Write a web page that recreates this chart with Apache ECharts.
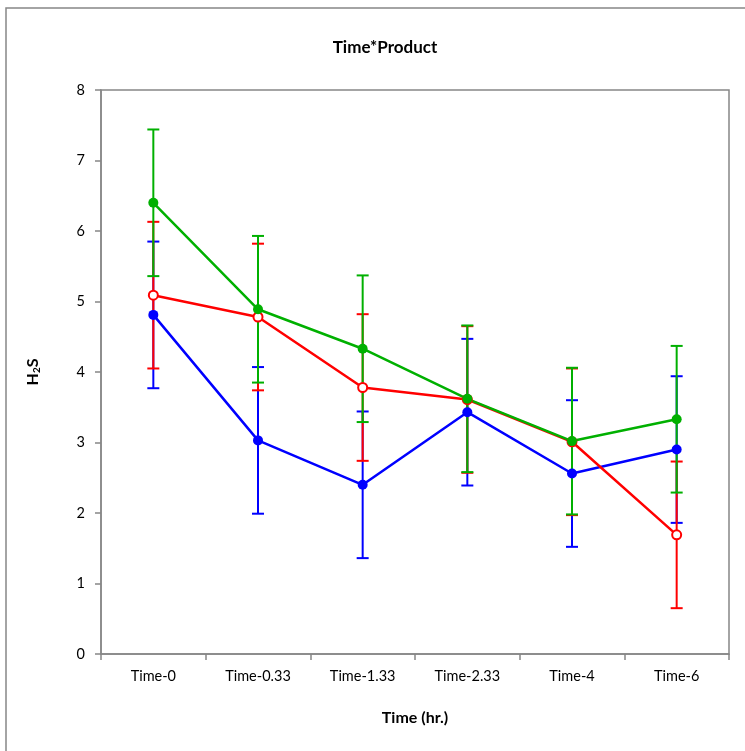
<!DOCTYPE html>
<html>
<head>
<meta charset="utf-8">
<script src="https://cdn.jsdelivr.net/npm/echarts@6/dist/echarts.min.js"></script>
<style>
  html, body { margin: 0; padding: 0; background: #fff; }
  #chart { width: 745px; height: 751px; }
</style>
</head>
<body>
<div id="chart"></div>
<script>
// categories and values
var categories = ['Time-0', 'Time-0.33', 'Time-1.33', 'Time-2.33', 'Time-4', 'Time-6'];
var yTicks = [0, 1, 2, 3, 4, 5, 6, 7, 8];

var blueVals  = [4.81, 3.03, 2.40, 3.43, 2.56, 2.90];
var blueErr   = [1.04, 1.04, 1.04, 1.04, 1.04, 1.04];
var redVals   = [5.09, 4.78, 3.78, 3.61, 3.01, 1.69];
var redErr    = [1.04, 1.04, 1.04, 1.04, 1.04, 1.04];
var greenVals = [6.40, 4.89, 4.33, 3.62, 3.02, 3.33];
var greenErr  = [1.04, 1.04, 1.04, 1.04, 1.04, 1.04];

var FONT = 'Lato';
var AXIS_GREY = '#878787';

function errData(vals, errs) {
  return vals.map(function (v, i) { return [i, v - errs[i], v + errs[i]]; });
}

function errSeries(vals, errs, color) {
  return {
    type: 'custom',
    z: 2,
    silent: true,
    data: errData(vals, errs),
    renderItem: function (params, api) {
      var lo = api.coord([api.value(0), api.value(1)]);
      var hi = api.coord([api.value(0), api.value(2)]);
      var w = 6;
      var st = { stroke: color, lineWidth: 2 };
      return {
        type: 'group',
        children: [
          { type: 'line', shape: { x1: hi[0], y1: hi[1], x2: lo[0], y2: lo[1] }, style: st },
          { type: 'line', shape: { x1: hi[0] - w, y1: hi[1], x2: hi[0] + w, y2: hi[1] }, style: st },
          { type: 'line', shape: { x1: lo[0] - w, y1: lo[1], x2: lo[0] + w, y2: lo[1] }, style: st }
        ]
      };
    }
  };
}

function lineSeries(vals, color, open) {
  return {
    type: 'line',
    z: 3,
    data: vals,
    symbol: 'circle',
    symbolSize: open ? 9 : 10,
    lineStyle: { color: color, width: 2.5 },
    itemStyle: open ? { color: '#fff', borderColor: color, borderWidth: 2 } : { color: color, borderWidth: 0 },
    animation: false
  };
}

var chart = echarts.init(document.getElementById('chart'));
chart.setOption({
  animation: false,
  textStyle: { fontFamily: FONT },
  title: {
    text: 'Time*Product',
    left: 380, top: 34, textAlign: 'center',
    textStyle: { fontFamily: FONT, fontSize: 17, fontWeight: 'bold', color: '#000' }
  },
  graphic: [
    { type: 'rect', shape: { x: 6, y: 8, width: 760, height: 770 }, style: { fill: 'none', stroke: AXIS_GREY, lineWidth: 1.5 }, silent: true }
  ],
  grid: { left: 101, right: 16, top: 90, bottom: 97, show: true, borderColor: AXIS_GREY, borderWidth: 1.5 },
  xAxis: {
    type: 'category',
    data: categories,
    boundaryGap: true,
    name: 'Time (hr.)',
    nameLocation: 'middle',
    nameGap: 56,
    nameTextStyle: { fontFamily: FONT, fontSize: 16, fontWeight: 'bold', color: '#000' },
    axisLine: { lineStyle: { color: AXIS_GREY, width: 1.5 } },
    axisTick: { show: true, length: 6, lineStyle: { color: AXIS_GREY, width: 1.5 } },
    axisLabel: { color: '#000', fontSize: 14.5, margin: 15, fontFamily: FONT },
    splitLine: { show: false }
  },
  yAxis: {
    type: 'value',
    min: yTicks[0], max: yTicks[yTicks.length - 1], interval: 1,
    name: '{a|H}{b|2}{a|S}',
    nameLocation: 'middle',
    nameGap: 59,
    nameRotate: 90,
    nameTextStyle: {
      rich: {
        a: { fontFamily: FONT, fontSize: 16, fontWeight: 'bold', color: '#000' },
        b: { fontFamily: FONT, fontSize: 10, fontWeight: 'bold', color: '#000', verticalAlign: 'bottom', padding: [9, 0, 0, 0] }
      }
    },
    axisLine: { show: true, lineStyle: { color: AXIS_GREY, width: 1.5 } },
    axisTick: { show: true, length: 6, lineStyle: { color: AXIS_GREY, width: 1.5 } },
    axisLabel: { color: '#000', fontSize: 14.5, margin: 16, fontFamily: FONT },
    splitLine: { show: false }
  },
  series: [
    errSeries(blueVals, blueErr, '#0000ff'),
    lineSeries(blueVals, '#0000ff', false),
    errSeries(redVals, redErr, '#ff0000'),
    lineSeries(redVals, '#ff0000', true),
    errSeries(greenVals, greenErr, '#00b000'),
    lineSeries(greenVals, '#00b000', false)
  ]
});
</script>
</body>
</html>
